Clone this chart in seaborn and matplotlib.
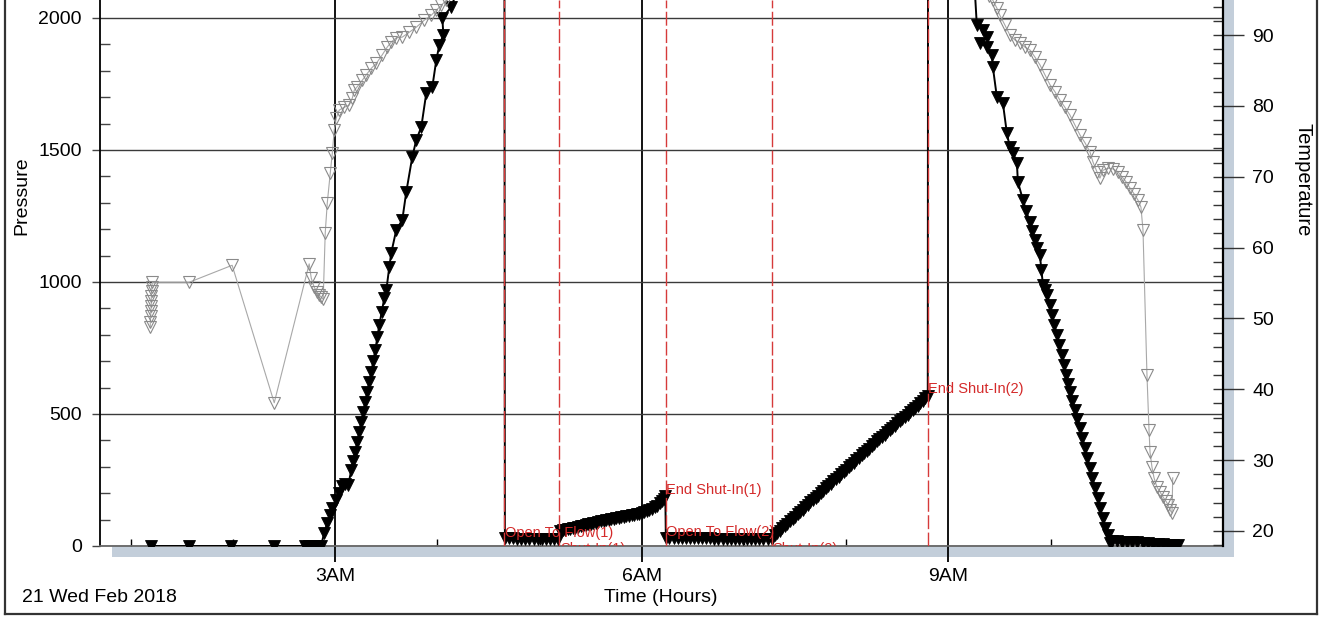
import matplotlib
matplotlib.use("Agg")
import matplotlib.pyplot as plt
import seaborn as sns
import pandas as pd
from matplotlib.ticker import MultipleLocator
from matplotlib.patches import Rectangle
from matplotlib.lines import Line2D

# ---------------- data (time in decimal hours, 21 Feb 2018) ----------------
p_hours = [
    # pre-job / build-up to bottom
    1.198, 1.570, 1.981, 2.403, 2.700, 2.740, 2.780, 2.820, 2.860, 2.892,
    2.922, 2.951, 2.971, 3.010, 3.039, 3.069, 3.098, 3.127, 3.157, 3.176,
    3.196, 3.216, 3.235, 3.255, 3.274, 3.294, 3.313, 3.333, 3.353, 3.372,
    3.392, 3.412, 3.431, 3.455, 3.480, 3.500, 3.529, 3.548,
    3.597, 3.656, 3.695, 3.754, 3.793, 3.842, 3.891, 3.950, 3.989, 4.019,
    4.058, 4.048, 4.136, 4.195, 4.234, 4.400, 4.550, 4.650, 4.655,
    # open to flow (1)
    4.660, 4.700, 4.740, 4.780, 4.820, 4.860, 4.900, 4.940, 4.980, 5.020,
    5.060, 5.100, 5.140, 5.180,
    # shut-in (1)
    5.200, 5.225, 5.250, 5.275, 5.300, 5.325, 5.350, 5.375, 5.400, 5.425,
    5.450, 5.475, 5.500, 5.525, 5.550, 5.575, 5.600, 5.625, 5.650, 5.675,
    5.700, 5.725, 5.750, 5.775, 5.800, 5.825, 5.850, 5.875, 5.900, 5.925,
    5.950, 5.975, 6.000, 6.025, 6.050, 6.075, 6.100, 6.125, 6.150, 6.175,
    6.200, 6.215, 6.230,
    # open to flow (2)
    6.235, 6.270, 6.310, 6.350, 6.390, 6.430, 6.470, 6.510, 6.550, 6.590,
    6.630, 6.670, 6.710, 6.750, 6.790, 6.830, 6.870, 6.910, 6.950, 6.990,
    7.030, 7.070, 7.110, 7.150, 7.190, 7.230, 7.270,
    # shut-in (2)
    7.300, 7.325, 7.350, 7.375, 7.400, 7.425, 7.450, 7.475, 7.500, 7.525,
    7.550, 7.575, 7.600, 7.625, 7.650, 7.675, 7.700, 7.725, 7.750, 7.775,
    7.800, 7.825, 7.850, 7.875, 7.900, 7.925, 7.950, 7.975, 8.000, 8.025,
    8.050, 8.075, 8.100, 8.125, 8.150, 8.175, 8.200, 8.225, 8.250, 8.275,
    8.300, 8.325, 8.350, 8.375, 8.400, 8.425, 8.450, 8.475, 8.500, 8.525,
    8.550, 8.575, 8.600, 8.625, 8.650, 8.675, 8.700, 8.725, 8.750, 8.775,
    8.798,
    # pull out of hole
    8.801, 9.000, 9.200, 9.259,
    9.278, 9.337, 9.376, 9.308, 9.376, 9.425, 9.435, 9.474, 9.533, 9.572,
    9.601, 9.631, 9.670, 9.680, 9.729, 9.760, 9.797, 9.820, 9.846, 9.870,
    9.895, 9.910, 9.925, 9.945, 9.964, 9.990, 10.013, 10.037, 10.062, 10.087,
    10.111, 10.131, 10.150, 10.170, 10.189, 10.214, 10.238, 10.263, 10.287,
    10.312, 10.336, 10.361, 10.385, 10.410, 10.434, 10.459, 10.483, 10.508,
    10.532, 10.557, 10.581,
    10.600, 10.650, 10.700, 10.750, 10.800, 10.850, 10.900, 10.950, 11.000,
    11.050, 11.100, 11.150, 11.200, 11.250,
]
p_psi = [
    0, 0, 0, 0, 0, 0, 0, 0, 0, 49,
    87, 117, 144, 174, 201, 227, 235, 231, 288, 322,
    356, 394, 432, 470, 508, 545, 583, 621, 659, 700,
    742, 790, 837, 888, 939, 970, 1057, 1110,
    1197, 1235, 1341, 1474, 1538, 1587, 1716, 1739, 1841, 1898,
    1936, 2000, 2042, 2106, 2144, 2300, 2400, 2450, 2450,
    30, 29, 29, 28, 28, 28, 27, 27, 27, 27,
    26, 26, 26, 26,
    57, 59, 61, 64, 66, 68, 70, 73, 75, 77,
    79, 82, 84, 86, 88, 91, 93, 95, 97, 99,
    101, 103, 105, 107, 109, 111, 113, 115, 117, 119,
    121, 123, 126, 129, 133, 137, 142, 147, 153, 161,
    170, 178, 188,
    32, 31, 31, 30, 30, 30, 30, 29, 29, 29,
    29, 29, 28, 28, 28, 28, 28, 28, 28, 27,
    27, 27, 27, 27, 27, 27, 28,
    40, 49, 58, 67, 76, 84, 93, 102, 111, 120,
    129, 138, 147, 156, 165, 173, 182, 191, 200, 209,
    218, 227, 236, 245, 254, 262, 271, 280, 289, 298,
    307, 316, 325, 334, 343, 351, 360, 369, 378, 387,
    396, 404, 413, 421, 430, 438, 447, 455, 464, 472,
    481, 489, 498, 506, 515, 523, 532, 541, 550, 560,
    570,
    2450, 2500, 2400, 2100,
    1973, 1955, 1928, 1905, 1890, 1860, 1814, 1701, 1678, 1564,
    1511, 1489, 1451, 1379, 1311, 1270, 1227, 1193, 1159, 1130,
    1102, 1045, 989, 970, 951, 913, 875, 837, 799, 761,
    723, 685, 648, 615, 583, 549, 515, 481, 447,
    409, 371, 333, 295, 258, 220, 182, 144, 106,
    68, 40, 11,
    18, 18, 17, 16, 15, 14, 12, 10, 9,
    8, 6, 5, 4, 3,
]

t_hours = [
    1.190, 1.190, 1.195, 1.195, 1.200, 1.200, 1.200, 1.205, 1.205, 1.210,
    1.570, 1.991, 2.403, 2.745, 2.765, 2.794, 2.824, 2.843, 2.863, 2.882,
    2.902, 2.922, 2.951, 2.971, 2.990, 3.010, 3.039, 3.088, 3.137, 3.167,
    3.186, 3.215, 3.264, 3.304, 3.353, 3.402, 3.460, 3.509, 3.548, 3.597,
    3.656, 3.725, 3.793, 3.872, 3.940, 3.989, 4.038, 4.087,
    4.300, 5.000, 7.000, 9.000, 9.400,
    9.435, 9.474, 9.503, 9.553, 9.601, 9.650, 9.699, 9.748, 9.797, 9.846,
    9.895, 9.944, 9.993, 10.042, 10.091, 10.140, 10.189, 10.238, 10.287,
    10.336, 10.385, 10.414, 10.453, 10.483, 10.512, 10.561, 10.610, 10.659,
    10.698, 10.737, 10.777, 10.816, 10.855, 10.884, 10.904, 10.943, 10.963,
    10.973, 10.992, 11.012, 11.041, 11.071, 11.100, 11.129, 11.149, 11.168,
    11.188, 11.195,
]
t_degf = [
    48.8, 49.5, 50.3, 51.0, 51.7, 52.4, 53.1, 53.8, 54.4, 55.1,
    55.1, 57.5, 38.1, 57.7, 55.7, 54.4, 53.7, 53.3, 53.0, 52.7,
    62.1, 66.3, 70.5, 73.3, 76.6, 78.3, 79.4, 79.8, 80.1, 81.1,
    82.2, 82.7, 83.6, 84.4, 85.3, 86.0, 87.2, 88.3, 89.0, 89.6,
    89.7, 90.4, 91.1, 92.1, 92.8, 93.5, 94.2, 94.9,
    97.0, 99.0, 99.0, 98.0, 95.5,
    94.9, 93.8, 92.8, 91.4, 90.0, 89.3, 88.9, 88.3, 87.9, 86.9,
    85.8, 84.4, 83.0, 82.0, 80.8, 79.8, 78.7, 77.3, 75.9,
    74.8, 73.5, 72.1, 70.7, 69.8, 70.9, 71.2, 71.1, 70.7,
    70.0, 69.3, 68.4, 67.6, 66.7, 65.7, 62.5, 42.0, 34.3,
    31.1, 29.0, 27.5, 26.2, 25.5, 24.8, 24.2, 23.7, 23.0,
    22.5, 27.5,
]

event_names = ["Open To Flow(1)", "Shut-In(1)", "End Shut-In(1)",
               "Open To Flow(2)", "Shut-In(2)", "End Shut-In(2)"]
event_hours = [4.655, 5.194, 6.232, 6.232, 7.270, 8.798]
event_label_psi = [49, -12, 212, 53, -12, 595]

x_major = [3, 6, 9]
x_major_labels = ["3AM", "6AM", "9AM"]
p_ticks = [0, 500, 1000, 1500, 2000]
t_ticks = [20, 30, 40, 50, 60, 70, 80, 90]

# ---------------- figure ----------------
plt.rcParams["font.family"] = ["Liberation Sans", "DejaVu Sans"]
W, H = 1320, 617
fig = plt.figure(figsize=(W / 100, H / 100), dpi=100)
fx = lambda px: px / W
fy = lambda py: 1 - py / H

# shadow frame behind the plot
shadow = "#c3ceda"
fig.add_artist(Rectangle((fx(112), fy(557)), fx(1234) - fx(112), fy(546) - fy(557),
                         transform=fig.transFigure, facecolor=shadow, edgecolor="none", zorder=-1))
fig.add_artist(Rectangle((fx(1223), fy(557)), fx(1234) - fx(1223), fy(0) - fy(557),
                         transform=fig.transFigure, facecolor=shadow, edgecolor="none", zorder=-1))
# outer border
for xs, ys in [([fx(5), fx(5)], [fy(614), 1]), ([fx(1317), fx(1317)], [fy(614), 1]),
               ([fx(5), fx(1317)], [fy(614), fy(614)])]:
    fig.add_artist(Line2D(xs, ys, transform=fig.transFigure, color="#333333", lw=1.6))

ax = fig.add_axes([fx(100), fy(546), fx(1223) - fx(100), fy(0) - fy(546)])
ax.set_facecolor("white")
ax.set_xlim(0.698, 11.687)
ax.set_ylim(0, 2068)

pdf = pd.DataFrame({"hours": p_hours, "psi": p_psi})
sns.lineplot(data=pdf, x="hours", y="psi", ax=ax, sort=False, estimator=None,
             color="black", lw=1.4, marker="v", markersize=9,
             markerfacecolor="black", markeredgecolor="black", markeredgewidth=0.6,
             legend=False, zorder=4)

# event lines and labels
for h in sorted(set(event_hours)):
    ax.axvline(h, color="#d63a3a", lw=1.0, ls=(0, (10, 2.5)), zorder=5)
for name, h, pv in zip(event_names, event_hours, event_label_psi):
    ax.text(h + 0.005, pv, name, color="#d42a2a", fontsize=10.5, ha="left", va="center",
            clip_on=True, zorder=6)

ax.set_xticks(x_major, labels=x_major_labels)
ax.xaxis.set_minor_locator(MultipleLocator(1))
ax.set_yticks(p_ticks)
ax.yaxis.set_minor_locator(MultipleLocator(100))
ax.tick_params(axis="x", which="major", direction="out", length=11.5, width=1.3,
               color="black", labelsize=14, pad=4)
ax.tick_params(axis="x", which="minor", direction="in", length=5, width=1.0, color="black")
ax.tick_params(axis="y", which="major", direction="out", length=6, width=1.0,
               color="#444444", labelsize=14, pad=7)
ax.tick_params(axis="y", which="minor", direction="in", length=7, width=1.0, color="#444444")
ax.grid(axis="x", which="major", color="black", lw=1.3)
ax.grid(axis="y", which="major", color="#3a3a3a", lw=1.0)
ax.set_xlabel("")
ax.set_ylabel("")
for s in ["top", "right"]:
    ax.spines[s].set_visible(False)
ax.spines["left"].set_color("black")
ax.spines["left"].set_linewidth(1.3)
ax.spines["bottom"].set_color("#666666")
ax.spines["bottom"].set_linewidth(1.3)

ax2 = ax.twinx()
ax2.set_ylim(17.88, 94.94)
tdf = pd.DataFrame({"hours": t_hours, "degf": t_degf})
sns.lineplot(data=tdf, x="hours", y="degf", ax=ax2, sort=False, estimator=None,
             color="#a8a8a8", lw=0.8, marker="v", markersize=8.5,
             markerfacecolor="none", markeredgecolor="#8a8a8a", markeredgewidth=0.8,
             legend=False)
ax2.set_yticks(t_ticks)
ax2.yaxis.set_minor_locator(MultipleLocator(2))
ax2.yaxis.remove_overlapping_locs = False
ax2.tick_params(axis="y", which="major", direction="out", length=15, width=1.0,
                color="#333333", labelsize=14, pad=6)
ax2.tick_params(axis="y", which="minor", direction="in", length=7, width=1.0, color="#333333")
ax2.set_ylabel("")
for s in ["top", "left", "bottom"]:
    ax2.spines[s].set_visible(False)
ax2.spines["right"].set_color("black")
ax2.spines["right"].set_linewidth(1.6)

# axis titles and date
fig.text(fx(22), fy(196), "Pressure", rotation=90, ha="center", va="center", fontsize=14)
fig.text(fx(1303), fy(180), "Temperature", rotation=270, ha="center", va="center", fontsize=14.5)
fig.text(fx(661), fy(598), "Time (Hours)", ha="center", va="center", fontsize=14)
fig.text(fx(22), fy(598), "21 Wed Feb 2018", ha="left", va="center", fontsize=14)

fig.savefig("out.png", dpi=100)
